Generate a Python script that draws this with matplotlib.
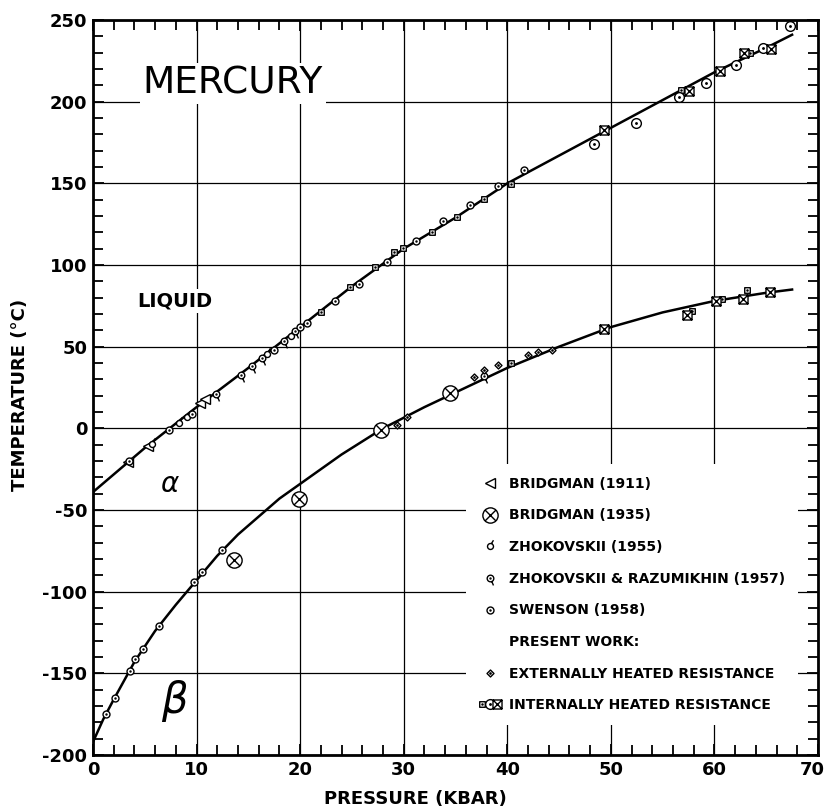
import numpy as np
import matplotlib.pyplot as plt
from matplotlib.path import Path
from matplotlib.lines import Line2D
from matplotlib.legend_handler import HandlerTuple
import matplotlib.transforms as mtransforms

plt.rcParams['axes.unicode_minus'] = False
plt.rcParams['font.family'] = ['DejaVu Sans']

# melting curves
alpha_p = [0, 5, 10, 15, 20, 25, 30, 35, 40, 45, 50, 55, 60, 65, 67.5]
alpha_T = [-39, -12, 13, 37, 62, 87, 110, 129, 150, 167, 184, 201, 218, 233, 241]
beta_p = [0, 1, 2, 4, 6, 8, 10, 12, 14, 16, 18, 20, 24, 28, 32, 36, 40, 45, 50, 55, 60, 65, 67.5]
beta_T = [-192, -178, -166, -143, -124, -108, -93, -78, -65, -54, -43, -34, -16, 0, 13, 25, 37, 50, 62, 71, 78, 83, 85]

# data points
bridg1911_p = [3.4, 5.3, 10.3, 10.8]
bridg1911_T = [-20.6, -10.5, 15.5, 18.2]
bridg1935_p = [13.65, 19.9, 27.8, 34.5]
bridg1935_T = [-80.8, -43.5, -1.2, 21.6]
zhok55_p = [5.7, 8.3, 9.1, 16.8, 19.1]
zhok55_T = [-9.8, 3.3, 6.9, 45.7, 56.3]
zhokraz_p = [11.9, 14.3, 15.35, 16.3, 18.4, 19.55, 37.8]
zhokraz_T = [21.2, 32.5, 38.0, 43.3, 53.5, 59.4, 31.8]
swenson_p = [3.5, 7.3, 9.55, 17.45, 20.0, 20.7, 23.4, 25.7, 28.4, 31.2, 33.75, 36.4, 39.1, 41.6,
             1.26, 2.16, 3.58, 4.07, 4.87, 6.4, 9.8, 10.5, 12.45]
swenson_T = [-20.0, -0.8, 9.0, 48.2, 62.0, 64.8, 78.0, 88.6, 102.0, 114.5, 126.8, 136.5, 148.4, 158.4,
             -174.7, -165.3, -148.8, -141.0, -135.3, -121.0, -94.3, -87.8, -74.7]
ext_p = [29.4, 30.3, 36.8, 37.8, 39.1, 42.0, 43.0, 44.3]
ext_T = [2.3, 6.9, 31.4, 36.0, 39.0, 45.0, 47.0, 48.0]
int_sq_p = [22.0, 24.8, 27.2, 29.07, 29.9, 32.7, 35.1, 37.8, 40.4, 56.8, 63.4,
            40.4, 57.8, 60.7, 63.1]
int_sq_T = [71.0, 86.5, 98.8, 108.0, 110.4, 120.0, 129.4, 140.2, 149.4, 207.0, 229.8,
            40.0, 71.6, 79.4, 84.5]
int_circ_p = [48.4, 52.4, 56.6, 59.2, 62.1, 64.7, 67.3]
int_circ_T = [174.3, 187.0, 203.0, 211.4, 222.7, 232.9, 246.4]
int_bx_p = [49.3, 57.5, 60.5, 62.9, 65.5, 49.3, 57.4, 60.2, 62.8, 65.4]
int_bx_T = [182.5, 206.6, 218.8, 229.8, 232.5, 61.0, 69.6, 78.0, 79.4, 83.6]

M, L, C = Path.MOVETO, Path.LINETO, Path.CLOSEPOLY
square = Path([(-1, -1), (1, -1), (1, 1), (-1, 1), (-1, -1)], [M, L, L, L, C])
xlines = Path([(-1, -1), (1, 1), (-1, 1), (1, -1)], [M, L, M, L])
xin = Path([(-.7, -.7), (.7, .7), (-.7, .7), (.7, -.7)], [M, L, M, L])
circle_dot = Path.make_compound_path(Path.circle((0, 0), 1), Path.circle((0, 0), 0.15))
square_dot = Path.make_compound_path(square, Path.circle((0, 0), 0.2))
boxed_x = Path.make_compound_path(square, xlines)
circle_x = Path.make_compound_path(Path.circle((0, 0), 1), xin)
tail_up = Path.make_compound_path(Path.circle((0, 0), 1),
                                  Path([(0.3, 0.95), (1.0, 2.1)], [M, L]))
tail_down = Path.make_compound_path(Path.circle((0, 0), 1), Path.circle((0, 0), 0.15),
                                    Path([(0.4, -0.92), (0.9, -2.1)], [M, L]))
diamond_dot = Path.make_compound_path(Path([(0, -1), (1, 0), (0, 1), (-1, 0), (0, -1)], [M, L, L, L, C]),
                                      Path.circle((0, 0), 0.18))

fig = plt.figure(figsize=(8.25, 8.11), dpi=100)
ax = fig.add_axes([0.1127, 0.069, 0.8788, 0.9063])

ax.plot(alpha_p, alpha_T, color='black', lw=1.8, zorder=3)
ax.plot(beta_p, beta_T, color='black', lw=1.8, zorder=3)

kw = dict(ls='none', color='black', mfc='white', mew=1.0, zorder=4)
ax.plot(bridg1911_p, bridg1911_T, marker='<', ms=7, **kw)
ax.plot(bridg1935_p, bridg1935_T, marker=circle_x, ms=11, **kw)
ax.plot(zhok55_p, zhok55_T, marker=tail_up, ms=9, **kw)
ax.plot(zhokraz_p, zhokraz_T, marker=tail_down, ms=10, **kw)
ax.plot(swenson_p, swenson_T, marker=circle_dot, ms=5, **kw)
ax.plot(ext_p, ext_T, marker=diamond_dot, ms=5, **kw)
ax.plot(int_sq_p, int_sq_T, marker=square_dot, ms=4, **kw)
ax.plot(int_circ_p, int_circ_T, marker=circle_dot, ms=7, **kw)
ax.plot(int_bx_p, int_bx_T, marker=boxed_x, ms=6.5, **kw)

ax.set_xlim(0, 70)
ax.set_ylim(-200, 250)
ax.set_xticks(range(0, 71, 10))
ax.set_yticks(range(-200, 251, 50))
ax.set_xticks(range(0, 71, 2), minor=True)
ax.set_yticks(range(-200, 251, 10), minor=True)
ax.grid(True, which='major', color='black', lw=0.9)
ax.tick_params(which='both', direction='in', top=True, right=True, width=1.3)
ax.tick_params(which='major', length=8, labelsize=13, pad=4)
ax.tick_params(which='minor', length=7)
for lab in ax.get_xticklabels() + ax.get_yticklabels():
    lab.set_fontweight('bold')
# last x label sits right at the figure edge; nudge it inside
last = ax.get_xticklabels()[-1]
last.set_transform(last.get_transform() + mtransforms.ScaledTranslation(-6 / 100, 0, fig.dpi_scale_trans))
for s in ax.spines.values():
    s.set_linewidth(2)

ax.set_xlabel('PRESSURE (KBAR)', fontsize=13, fontweight='bold')
ax.set_ylabel('TEMPERATURE (°C)', fontsize=13, fontweight='bold')
ax.xaxis.set_label_coords(0.445, -0.048)
ax.yaxis.set_label_coords(-0.088, 0.49)

wbox = dict(facecolor='white', edgecolor='none', pad=2)
ax.text(4.8, 211, 'MERCURY', fontsize=27, va='center', ha='left', bbox=wbox, zorder=5)
ax.text(4.3, 78, 'LIQUID', fontsize=14, fontweight='bold', va='center', ha='left', bbox=wbox, zorder=5)
ax.text(7.4, -34, r'$\alpha$', fontsize=20, va='center', ha='center')
ax.text(7.9, -167, r'$\beta$', fontsize=30, va='center', ha='center')

mk = dict(ls='none', color='black', mfc='white', mew=1.0)
handles = [
    Line2D([], [], marker='<', ms=7, **mk),
    Line2D([], [], marker=circle_x, ms=11, **mk),
    Line2D([], [], marker=tail_up, ms=9, **mk),
    Line2D([], [], marker=tail_down, ms=10, **mk),
    Line2D([], [], marker=circle_dot, ms=5, **mk),
    Line2D([], [], ls='none'),
    Line2D([], [], marker=diamond_dot, ms=5, **mk),
    (Line2D([], [], marker=square_dot, ms=4, **mk),
     Line2D([], [], marker=circle_dot, ms=7, **mk),
     Line2D([], [], marker=boxed_x, ms=6.5, **mk)),
]
labels = ['BRIDGMAN (1911)', 'BRIDGMAN (1935)', 'ZHOKOVSKII (1955)',
          'ZHOKOVSKII & RAZUMIKHIN (1957)', 'SWENSON (1958)', 'PRESENT WORK:',
          'EXTERNALLY HEATED RESISTANCE', 'INTERNALLY HEATED RESISTANCE']
leg = ax.legend(handles, labels, loc='upper left', bbox_to_anchor=(0.505, 0.405),
                frameon=True, facecolor='white', edgecolor='none', framealpha=1,
                fancybox=False, borderpad=0.9, handlelength=1.6, handletextpad=0.6,
                labelspacing=1.27, prop={'weight': 'bold', 'size': 10},
                handler_map={tuple: HandlerTuple(ndivide=None, pad=0)})

fig.savefig('out.png', dpi=100)
